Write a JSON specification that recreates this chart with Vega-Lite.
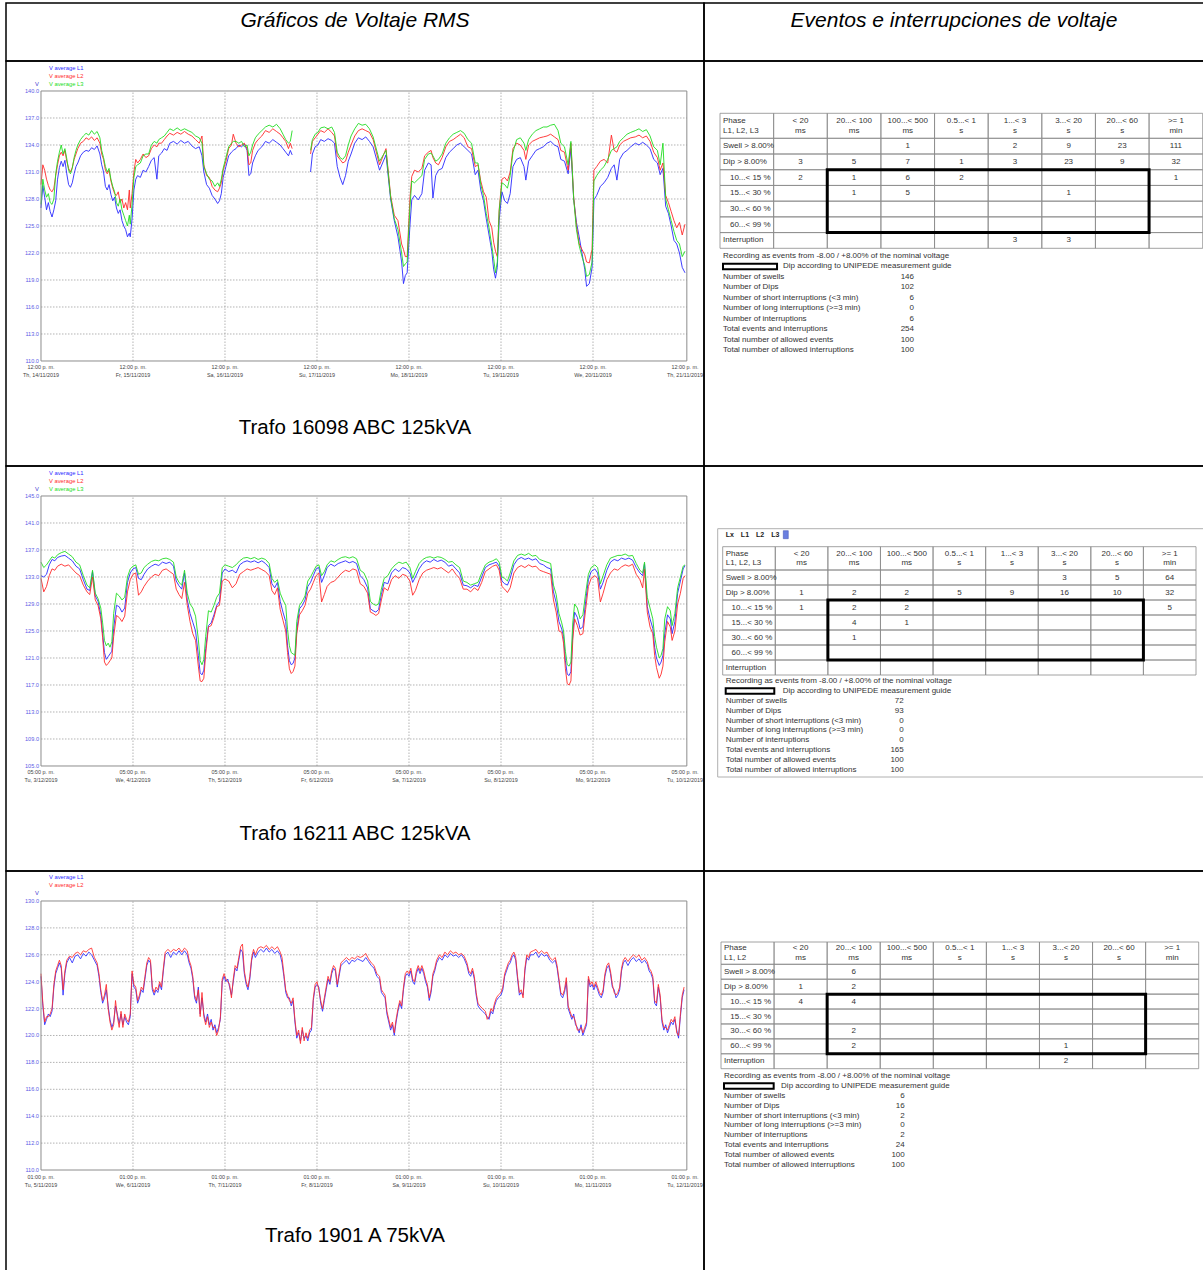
{
  "$schema": "https://vega.github.io/schema/vega-lite/v6.json",
  "padding": {"left": 5, "top": 2, "right": 0, "bottom": 0},
  "background": "white",
  "config": {
    "view": {"stroke": "#000", "strokeWidth": 1.5},
    "axis": {"disable": true},
    "legend": {"disable": true},
    "font": "Liberation Sans",
    "text": {"font": "Liberation Sans"}
  },
  "datasets": {
    "lg": [{"key": "a", "t": "V average L1"}, {"key": "b", "t": "V average L2"}, {"key": "c", "t": "V average L3"}],
    "x1": [
      {"d": 0, "lbl": "12:00 p. m.\nTh, 14/11/2019"}, {"d": 1, "lbl": "12:00 p. m.\nFr, 15/11/2019"},
      {"d": 2, "lbl": "12:00 p. m.\nSa, 16/11/2019"}, {"d": 3, "lbl": "12:00 p. m.\nSu, 17/11/2019"},
      {"d": 4, "lbl": "12:00 p. m.\nMo, 18/11/2019"}, {"d": 5, "lbl": "12:00 p. m.\nTu, 19/11/2019"},
      {"d": 6, "lbl": "12:00 p. m.\nWe, 20/11/2019"}, {"d": 7, "lbl": "12:00 p. m.\nTh, 21/11/2019"}
    ],
    "x2": [
      {"d": 0, "lbl": "05:00 p. m.\nTu, 3/12/2019"}, {"d": 1, "lbl": "05:00 p. m.\nWe, 4/12/2019"},
      {"d": 2, "lbl": "05:00 p. m.\nTh, 5/12/2019"}, {"d": 3, "lbl": "05:00 p. m.\nFr, 6/12/2019"},
      {"d": 4, "lbl": "05:00 p. m.\nSa, 7/12/2019"}, {"d": 5, "lbl": "05:00 p. m.\nSu, 8/12/2019"},
      {"d": 6, "lbl": "05:00 p. m.\nMo, 9/12/2019"}, {"d": 7, "lbl": "05:00 p. m.\nTu, 10/12/2019"}
    ],
    "x3": [
      {"d": 0, "lbl": "01:00 p. m.\nTu, 5/11/2019"}, {"d": 1, "lbl": "01:00 p. m.\nWe, 6/11/2019"},
      {"d": 2, "lbl": "01:00 p. m.\nTh, 7/11/2019"}, {"d": 3, "lbl": "01:00 p. m.\nFr, 8/11/2019"},
      {"d": 4, "lbl": "01:00 p. m.\nSa, 9/11/2019"}, {"d": 5, "lbl": "01:00 p. m.\nSu, 10/11/2019"},
      {"d": 6, "lbl": "01:00 p. m.\nMo, 11/11/2019"}, {"d": 7, "lbl": "01:00 p. m.\nTu, 12/11/2019"}
    ],
    "y1": [{"v": 110}, {"v": 113}, {"v": 116}, {"v": 119}, {"v": 122}, {"v": 125}, {"v": 128}, {"v": 131}, {"v": 134}, {"v": 137}, {"v": 140}],
    "y2": [{"v": 105}, {"v": 109}, {"v": 113}, {"v": 117}, {"v": 121}, {"v": 125}, {"v": 129}, {"v": 133}, {"v": 137}, {"v": 141}, {"v": 145}],
    "y3": [{"v": 110}, {"v": 112}, {"v": 114}, {"v": 116}, {"v": 118}, {"v": 120}, {"v": 122}, {"v": 124}, {"v": 126}, {"v": 128}, {"v": 130}],
    "l1": [
      {"d":0,"a":127.0,"b":129.6,"c":127.4},{"d":0.02,"a":129.5,"b":131.8,"c":130.2},{"d":0.04,"a":128.2,"b":131.2,"c":129.0},
      {"d":0.06,"a":126.8,"b":130.2,"c":128.2},{"d":0.08,"a":127.6,"b":129.5,"c":128.6},{"d":0.10,"a":126.6,"b":129.0,"c":127.6},
      {"d":0.12,"a":126.0,"b":128.8,"c":127.4},{"d":0.14,"a":126.8,"b":129.2,"c":128.0},{"d":0.16,"a":127.8,"b":130.6,"c":130.8},
      {"d":0.18,"a":130.2,"b":131.8,"c":132.2},{"d":0.20,"a":131.5,"b":132.8,"c":133.2},{"d":0.22,"a":132.2,"b":133.2,"c":134.0},
      {"d":0.24,"a":131.6,"b":132.8,"c":133.0},{"d":0.26,"a":132.3,"b":133.4,"c":133.6},{"d":0.28,"a":130.8,"b":132.2,"c":132.5},
      {"d":0.30,"a":129.6,"b":131.4,"c":131.2},{"d":0.32,"a":129.3,"b":131.0,"c":130.8},{"d":0.34,"a":129.8,"b":131.5,"c":131.4},
      {"d":0.36,"a":130.8,"b":132.4,"c":132.6},{"d":0.38,"a":131.6,"b":133.0,"c":133.4},{"d":0.40,"a":132.0,"b":133.6,"c":134.0},
      {"d":0.43,"a":132.8,"b":134.2,"c":134.6},{"d":0.46,"a":133.2,"b":134.4,"c":135.0},{"d":0.49,"a":133.4,"b":134.8,"c":135.3},
      {"d":0.52,"a":133.3,"b":134.6,"c":135.1},{"d":0.55,"a":133.7,"b":134.9,"c":135.6},{"d":0.58,"a":133.5,"b":134.5,"c":135.2},
      {"d":0.61,"a":133.9,"b":134.8,"c":135.5},{"d":0.64,"a":133.0,"b":134.2,"c":134.8},{"d":0.66,"a":131.8,"b":133.0,"c":133.4},
      {"d":0.68,"a":131.0,"b":132.4,"c":132.6},{"d":0.70,"a":129.4,"b":131.2,"c":131.6},{"d":0.72,"a":129.0,"b":130.8,"c":131.0},
      {"d":0.74,"a":129.6,"b":131.2,"c":131.4},{"d":0.76,"a":128.5,"b":130.0,"c":130.2},{"d":0.78,"a":127.8,"b":129.2,"c":129.4},
      {"d":0.80,"a":128.2,"b":128.6,"c":128.8},{"d":0.82,"a":127.0,"b":128.4,"c":127.6},{"d":0.84,"a":126.4,"b":128.8,"c":127.2},
      {"d":0.86,"a":126.8,"b":127.6,"c":128.0},{"d":0.88,"a":125.6,"b":128.0,"c":126.8},{"d":0.90,"a":125.0,"b":127.0,"c":126.2},
      {"d":0.92,"a":124.6,"b":127.6,"c":125.6},{"d":0.94,"a":123.8,"b":126.8,"c":125.0},{"d":0.96,"a":124.2,"b":129.0,"c":126.2},
      {"d":0.97,"a":123.8,"b":127.0,"c":125.2},{"d":0.99,"a":125.8,"b":128.6,"c":127.4},{"d":1.01,"a":129.0,"b":131.0,"c":130.4},
      {"d":1.03,"a":130.2,"b":132.4,"c":131.6},{"d":1.05,"a":130.6,"b":132.0,"c":131.8},{"d":1.08,"a":130.4,"b":132.4,"c":132.0},
      {"d":1.11,"a":131.2,"b":133.0,"c":132.8},{"d":1.14,"a":131.0,"b":132.6,"c":133.0},{"d":1.17,"a":131.6,"b":132.8,"c":133.0},
      {"d":1.20,"a":132.3,"b":133.6,"c":134.0},{"d":1.23,"a":132.6,"b":134.0,"c":134.4},{"d":1.26,"a":130.2,"b":133.8,"c":134.2},
      {"d":1.28,"a":132.8,"b":134.2,"c":134.6},{"d":1.31,"a":133.1,"b":134.2,"c":134.8},{"d":1.34,"a":133.6,"b":134.6,"c":135.0},
      {"d":1.37,"a":133.4,"b":135.0,"c":135.4},{"d":1.40,"a":134.2,"b":135.3,"c":135.8},{"d":1.44,"a":134.4,"b":135.1,"c":135.6},
      {"d":1.48,"a":134.1,"b":135.4,"c":135.9},{"d":1.52,"a":134.5,"b":135.2,"c":135.6},{"d":1.56,"a":134.2,"b":135.5,"c":135.8},
      {"d":1.60,"a":134.4,"b":135.2,"c":135.6},{"d":1.64,"a":133.9,"b":135.0,"c":135.4},{"d":1.68,"a":133.6,"b":134.6,"c":135.0},
      {"d":1.72,"a":133.8,"b":134.2,"c":134.8},{"d":1.75,"a":132.8,"b":135.0,"c":134.2},{"d":1.77,"a":131.0,"b":131.8,"c":131.6},
      {"d":1.80,"a":129.6,"b":130.6,"c":130.8},{"d":1.83,"a":129.2,"b":130.4,"c":130.2},{"d":1.86,"a":128.4,"b":129.4,"c":130.0},
      {"d":1.89,"a":128.0,"b":129.0,"c":129.4},{"d":1.92,"a":127.5,"b":128.8,"c":129.8},{"d":1.94,"a":127.8,"b":129.2,"c":129.4},
      {"d":1.96,"a":128.6,"b":129.8,"c":130.2},{"d":1.98,"a":130.4,"b":131.2,"c":131.4},{"d":2.01,"a":131.6,"b":132.2,"c":132.6},
      {"d":2.04,"a":132.8,"b":133.6,"c":133.8},{"d":2.07,"a":133.2,"b":134.0,"c":134.2},{"d":2.09,"a":133.4,"b":135.2,"c":134.4},
      {"d":2.12,"a":133.6,"b":134.2,"c":134.4},{"d":2.15,"a":134.0,"b":133.8,"c":134.2},{"d":2.18,"a":133.8,"b":134.0,"c":134.4},
      {"d":2.21,"a":134.1,"b":134.2,"c":133.8},{"d":2.24,"a":133.4,"b":133.6,"c":134.0},{"d":2.26,"a":130.6,"b":131.8,"c":132.8},
      {"d":2.28,"a":130.8,"b":132.0,"c":133.2},{"d":2.30,"a":132.0,"b":133.4,"c":134.0},{"d":2.33,"a":132.8,"b":134.2,"c":134.8},
      {"d":2.36,"a":133.4,"b":134.6,"c":135.2},{"d":2.40,"a":133.8,"b":135.0,"c":135.6},{"d":2.44,"a":134.4,"b":135.6,"c":136.0},
      {"d":2.48,"a":134.2,"b":135.4,"c":136.2},{"d":2.52,"a":134.6,"b":135.8,"c":136.0},{"d":2.56,"a":134.3,"b":135.5,"c":136.3},
      {"d":2.60,"a":134.0,"b":135.2,"c":135.8},{"d":2.63,"a":133.6,"b":134.8,"c":135.2},{"d":2.66,"a":133.2,"b":134.4,"c":134.6},
      {"d":2.69,"a":132.8,"b":133.6,"c":134.2},{"d":2.71,"a":133.4,"b":134.2,"c":134.4},{"d":2.73,"a":132.9,"b":133.6,"c":135.6},
      {"d":2.80,"a":null,"b":null,"c":null},
      {"d":2.93,"a":131.0,"b":133.0,"c":133.4},{"d":2.95,"a":133.0,"b":134.4,"c":134.6},{"d":2.98,"a":133.8,"b":134.8,"c":135.2},
      {"d":3.01,"a":134.0,"b":135.2,"c":135.4},{"d":3.04,"a":134.6,"b":135.6,"c":135.9},{"d":3.08,"a":134.4,"b":135.4,"c":136.0},
      {"d":3.12,"a":134.7,"b":135.8,"c":135.8},{"d":3.16,"a":134.5,"b":135.4,"c":136.0},{"d":3.19,"a":134.2,"b":135.0,"c":135.4},
      {"d":3.22,"a":131.6,"b":132.8,"c":133.2},{"d":3.25,"a":130.4,"b":132.4,"c":132.6},{"d":3.28,"a":129.6,"b":132.0,"c":132.4},
      {"d":3.31,"a":130.6,"b":132.2,"c":132.8},{"d":3.34,"a":132.2,"b":133.2,"c":134.0},{"d":3.37,"a":133.0,"b":134.0,"c":135.0},
      {"d":3.41,"a":134.2,"b":135.0,"c":135.8},{"d":3.45,"a":134.8,"b":135.6,"c":136.4},{"d":3.49,"a":134.6,"b":135.8,"c":136.2},
      {"d":3.53,"a":134.9,"b":135.6,"c":136.3},{"d":3.57,"a":134.4,"b":135.4,"c":135.8},{"d":3.61,"a":133.8,"b":134.6,"c":134.9},
      {"d":3.68,"a":131.2,"b":131.8,"c":132.2},{"d":3.75,"a":132.9,"b":133.6,"c":133.4},{"d":3.80,"a":128.0,"b":128.4,"c":128.2},
      {"d":3.84,"a":125.6,"b":126.2,"c":125.8},{"d":3.88,"a":123.8,"b":125.6,"c":124.6},{"d":3.92,"a":121.0,"b":123.0,"c":122.0},
      {"d":3.94,"a":118.6,"b":122.4,"c":120.5},{"d":3.96,"a":119.5,"b":121.6,"c":120.8},{"d":3.98,"a":119.8,"b":121.6,"c":121.0},
      {"d":4.01,"a":125.0,"b":128.0,"c":127.0},{"d":4.03,"a":127.9,"b":130.5,"c":130.0},{"d":4.06,"a":128.4,"b":131.2,"c":129.8},
      {"d":4.10,"a":127.9,"b":131.0,"c":130.2},{"d":4.14,"a":128.6,"b":131.4,"c":130.6},{"d":4.17,"a":131.2,"b":132.8,"c":132.4},
      {"d":4.21,"a":132.0,"b":133.2,"c":133.0},{"d":4.24,"a":131.8,"b":133.4,"c":133.1},{"d":4.26,"a":128.1,"b":132.6,"c":132.8},
      {"d":4.29,"a":130.6,"b":132.0,"c":132.2},{"d":4.32,"a":131.2,"b":131.8,"c":132.4},{"d":4.36,"a":131.4,"b":132.6,"c":133.0},
      {"d":4.40,"a":132.6,"b":133.8,"c":134.2},{"d":4.44,"a":133.2,"b":134.4,"c":134.8},{"d":4.48,"a":133.6,"b":134.6,"c":135.2},
      {"d":4.52,"a":134.0,"b":134.9,"c":135.4},{"d":4.56,"a":134.2,"b":135.2,"c":135.6},{"d":4.60,"a":133.8,"b":134.8,"c":135.3},
      {"d":4.64,"a":133.4,"b":133.8,"c":134.6},{"d":4.68,"a":133.0,"b":133.6,"c":134.2},{"d":4.72,"a":130.7,"b":131.6,"c":132.0},
      {"d":4.75,"a":131.2,"b":131.8,"c":132.0},{"d":4.78,"a":129.0,"b":130.0,"c":129.6},{"d":4.81,"a":127.8,"b":128.8,"c":128.4},
      {"d":4.84,"a":125.8,"b":128.2,"c":126.4},{"d":4.87,"a":124.0,"b":125.6,"c":124.8},{"d":4.90,"a":122.2,"b":124.8,"c":122.8},
      {"d":4.92,"a":120.2,"b":123.2,"c":121.4},{"d":4.94,"a":119.2,"b":122.2,"c":119.8},{"d":4.96,"a":120.4,"b":121.6,"c":121.0},
      {"d":4.98,"a":125.6,"b":126.8,"c":126.6},{"d":5.01,"a":128.8,"b":130.2,"c":129.8},{"d":5.04,"a":127.8,"b":130.4,"c":129.6},
      {"d":5.07,"a":127.5,"b":130.0,"c":129.2},{"d":5.10,"a":128.6,"b":131.0,"c":130.6},{"d":5.13,"a":131.6,"b":133.6,"c":133.2},
      {"d":5.17,"a":132.4,"b":134.2,"c":134.6},{"d":5.21,"a":132.6,"b":134.0,"c":134.8},{"d":5.25,"a":131.6,"b":133.4,"c":134.2},
      {"d":5.27,"a":130.1,"b":132.4,"c":133.4},{"d":5.30,"a":132.2,"b":134.0,"c":134.6},{"d":5.34,"a":132.8,"b":134.4,"c":135.2},
      {"d":5.38,"a":133.4,"b":134.6,"c":135.6},{"d":5.42,"a":133.6,"b":134.8,"c":135.8},{"d":5.46,"a":133.8,"b":134.9,"c":136.0},
      {"d":5.50,"a":134.2,"b":135.0,"c":136.0},{"d":5.54,"a":134.4,"b":135.2,"c":136.2},{"d":5.58,"a":134.0,"b":134.9,"c":136.3},
      {"d":5.62,"a":133.8,"b":134.6,"c":135.6},{"d":5.65,"a":132.4,"b":133.4,"c":134.2},{"d":5.69,"a":132.2,"b":133.2,"c":133.8},
      {"d":5.73,"a":130.8,"b":131.2,"c":131.8},{"d":5.76,"a":133.6,"b":134.2,"c":134.4},{"d":5.79,"a":128.0,"b":128.2,"c":128.0},
      {"d":5.82,"a":125.4,"b":125.0,"c":124.6},{"d":5.85,"a":123.8,"b":123.0,"c":122.8},{"d":5.88,"a":122.0,"b":122.4,"c":121.6},
      {"d":5.91,"a":120.2,"b":121.8,"c":120.6},{"d":5.93,"a":118.3,"b":121.0,"c":119.4},{"d":5.96,"a":118.6,"b":120.9,"c":119.6},
      {"d":5.99,"a":120.4,"b":122.4,"c":121.0},{"d":6.01,"a":127.9,"b":131.2,"c":130.0},{"d":6.04,"a":128.4,"b":131.6,"c":130.6},
      {"d":6.08,"a":129.4,"b":132.2,"c":131.2},{"d":6.12,"a":129.8,"b":132.4,"c":131.6},{"d":6.16,"a":130.4,"b":132.0,"c":132.4},
      {"d":6.20,"a":131.4,"b":135.1,"c":133.4},{"d":6.23,"a":131.8,"b":133.4,"c":133.6},{"d":6.26,"a":130.1,"b":133.2,"c":133.8},
      {"d":6.29,"a":132.4,"b":134.0,"c":134.4},{"d":6.33,"a":133.1,"b":134.4,"c":134.8},{"d":6.37,"a":133.4,"b":134.6,"c":135.2},
      {"d":6.41,"a":133.8,"b":134.8,"c":135.4},{"d":6.46,"a":134.2,"b":134.9,"c":135.6},{"d":6.50,"a":134.0,"b":135.1,"c":135.8},
      {"d":6.54,"a":134.3,"b":134.8,"c":135.5},{"d":6.58,"a":134.0,"b":135.0,"c":135.7},{"d":6.62,"a":133.6,"b":134.4,"c":135.0},
      {"d":6.66,"a":132.4,"b":133.2,"c":133.8},{"d":6.70,"a":132.0,"b":132.6,"c":133.4},{"d":6.73,"a":130.7,"b":131.2,"c":131.8},
      {"d":6.76,"a":131.4,"b":132.0,"c":134.2},{"d":6.79,"a":127.2,"b":128.4,"c":128.0},{"d":6.82,"a":126.4,"b":127.6,"c":126.8},
      {"d":6.85,"a":125.0,"b":126.6,"c":125.6},{"d":6.88,"a":123.4,"b":125.6,"c":124.4},{"d":6.91,"a":123.0,"b":124.8,"c":123.4},
      {"d":6.94,"a":122.0,"b":125.4,"c":123.0},{"d":6.97,"a":120.4,"b":124.0,"c":121.6},{"d":7.00,"a":119.8,"b":125.2,"c":122.2}
    ],
    "l2": [
      {"d":0,"a":133.2,"b":132.8,"c":135.2},{"d":0.03,"a":133.0,"b":130.8,"c":134.4},{"d":0.06,"a":133.4,"b":131.6,"c":134.8},
      {"d":0.09,"a":134.8,"b":133.2,"c":135.4},{"d":0.12,"a":135.6,"b":134.2,"c":136.0},{"d":0.15,"a":135.4,"b":134.0,"c":135.8},
      {"d":0.18,"a":135.9,"b":134.6,"c":136.3},{"d":0.22,"a":136.1,"b":134.9,"c":136.6},{"d":0.26,"a":136.2,"b":134.6,"c":136.8},
      {"d":0.30,"a":135.8,"b":134.8,"c":136.4},{"d":0.34,"a":135.4,"b":134.2,"c":136.0},{"d":0.38,"a":134.6,"b":133.6,"c":135.2},
      {"d":0.42,"a":134.2,"b":133.2,"c":134.8},{"d":0.46,"a":132.6,"b":131.8,"c":133.2},{"d":0.50,"a":131.2,"b":130.8,"c":131.8},
      {"d":0.53,"a":131.0,"b":130.4,"c":131.4},{"d":0.56,"a":133.8,"b":133.0,"c":134.0},{"d":0.59,"a":130.2,"b":129.6,"c":130.6},
      {"d":0.62,"a":129.4,"b":128.8,"c":129.8},{"d":0.65,"a":127.4,"b":126.8,"c":128.4},{"d":0.67,"a":124.6,"b":124.0,"c":126.2},
      {"d":0.69,"a":121.8,"b":120.4,"c":123.6},{"d":0.71,"a":120.8,"b":119.9,"c":122.8},{"d":0.73,"a":121.2,"b":120.2,"c":123.2},
      {"d":0.75,"a":121.6,"b":120.6,"c":122.6},{"d":0.77,"a":122.0,"b":121.0,"c":123.4},{"d":0.79,"a":125.4,"b":124.2,"c":127.6},
      {"d":0.82,"a":128.8,"b":127.3,"c":130.6},{"d":0.85,"a":128.6,"b":127.0,"c":130.2},{"d":0.88,"a":127.8,"b":126.4,"c":129.6},
      {"d":0.91,"a":128.4,"b":127.2,"c":130.0},{"d":0.94,"a":132.2,"b":130.8,"c":133.0},{"d":0.97,"a":133.6,"b":132.6,"c":134.2},
      {"d":1.00,"a":134.2,"b":133.4,"c":134.6},{"d":1.03,"a":134.4,"b":133.6,"c":134.8},{"d":1.06,"a":132.8,"b":130.3,"c":133.4},
      {"d":1.09,"a":132.6,"b":130.8,"c":133.6},{"d":1.12,"a":133.4,"b":131.6,"c":134.4},{"d":1.16,"a":134.2,"b":132.4,"c":134.9},
      {"d":1.20,"a":134.6,"b":133.0,"c":135.3},{"d":1.24,"a":134.9,"b":133.4,"c":135.5},{"d":1.28,"a":134.7,"b":133.2,"c":135.4},
      {"d":1.32,"a":135.2,"b":134.0,"c":135.7},{"d":1.36,"a":135.0,"b":134.2,"c":135.8},{"d":1.40,"a":135.2,"b":133.8,"c":135.6},
      {"d":1.44,"a":134.6,"b":133.4,"c":135.2},{"d":1.47,"a":132.4,"b":131.2,"c":133.0},{"d":1.50,"a":131.7,"b":130.4,"c":132.2},
      {"d":1.53,"a":131.2,"b":129.8,"c":131.8},{"d":1.56,"a":133.6,"b":132.2,"c":134.0},{"d":1.59,"a":129.6,"b":128.8,"c":130.6},
      {"d":1.62,"a":127.6,"b":126.4,"c":129.0},{"d":1.65,"a":126.3,"b":124.6,"c":128.4},{"d":1.68,"a":125.0,"b":123.6,"c":127.2},
      {"d":1.71,"a":121.4,"b":119.8,"c":123.8},{"d":1.73,"a":118.8,"b":117.6,"c":120.6},{"d":1.75,"a":118.5,"b":117.5,"c":120.0},
      {"d":1.77,"a":119.2,"b":118.0,"c":120.8},{"d":1.79,"a":122.4,"b":121.6,"c":124.2},{"d":1.82,"a":125.8,"b":125.6,"c":128.0},
      {"d":1.85,"a":126.2,"b":125.8,"c":127.8},{"d":1.88,"a":127.4,"b":127.0,"c":128.8},{"d":1.91,"a":128.8,"b":128.6,"c":130.0},
      {"d":1.94,"a":129.4,"b":128.8,"c":130.6},{"d":1.97,"a":133.6,"b":132.4,"c":134.4},{"d":2.00,"a":134.2,"b":132.7,"c":134.8},
      {"d":2.04,"a":133.8,"b":132.4,"c":134.6},{"d":2.08,"a":134.0,"b":131.4,"c":134.4},{"d":2.12,"a":133.6,"b":132.0,"c":134.8},
      {"d":2.16,"a":134.8,"b":133.4,"c":135.4},{"d":2.20,"a":135.2,"b":133.8,"c":135.8},{"d":2.24,"a":135.4,"b":134.2,"c":135.9},
      {"d":2.28,"a":135.2,"b":134.0,"c":135.7},{"d":2.32,"a":135.4,"b":134.2,"c":135.9},{"d":2.36,"a":135.1,"b":134.4,"c":135.6},
      {"d":2.40,"a":135.4,"b":134.1,"c":135.8},{"d":2.44,"a":135.0,"b":133.8,"c":135.6},{"d":2.48,"a":134.4,"b":133.2,"c":135.0},
      {"d":2.51,"a":132.0,"b":131.0,"c":132.8},{"d":2.54,"a":131.4,"b":130.4,"c":132.2},{"d":2.57,"a":132.2,"b":131.4,"c":132.6},
      {"d":2.60,"a":129.4,"b":128.2,"c":130.6},{"d":2.63,"a":127.8,"b":126.6,"c":129.6},{"d":2.66,"a":126.4,"b":125.0,"c":128.8},
      {"d":2.68,"a":122.8,"b":121.8,"c":125.2},{"d":2.70,"a":120.6,"b":119.4,"c":122.8},{"d":2.72,"a":120.0,"b":118.7,"c":121.8},
      {"d":2.74,"a":120.2,"b":119.0,"c":121.6},{"d":2.76,"a":121.0,"b":119.8,"c":121.4},{"d":2.78,"a":125.0,"b":124.6,"c":126.4},
      {"d":2.81,"a":128.3,"b":127.4,"c":128.8},{"d":2.84,"a":128.8,"b":128.0,"c":129.4},{"d":2.87,"a":129.6,"b":128.8,"c":130.2},
      {"d":2.90,"a":131.6,"b":130.6,"c":132.4},{"d":2.93,"a":132.2,"b":131.2,"c":133.0},{"d":2.96,"a":133.2,"b":132.2,"c":133.8},
      {"d":2.99,"a":134.2,"b":133.2,"c":134.6},{"d":3.02,"a":134.4,"b":133.6,"c":134.8},{"d":3.05,"a":132.2,"b":129.3,"c":133.2},
      {"d":3.08,"a":133.2,"b":130.4,"c":133.8},{"d":3.11,"a":134.4,"b":131.6,"c":134.8},{"d":3.15,"a":134.9,"b":132.2,"c":135.4},
      {"d":3.19,"a":134.6,"b":132.4,"c":135.2},{"d":3.23,"a":135.0,"b":133.0,"c":135.6},{"d":3.27,"a":135.2,"b":133.6,"c":135.9},
      {"d":3.31,"a":135.4,"b":134.0,"c":136.0},{"d":3.35,"a":135.1,"b":133.8,"c":135.8},{"d":3.39,"a":135.3,"b":134.2,"c":136.0},
      {"d":3.43,"a":135.0,"b":134.0,"c":135.7},{"d":3.47,"a":133.2,"b":132.0,"c":134.0},{"d":3.51,"a":132.6,"b":131.6,"c":133.6},
      {"d":3.55,"a":131.4,"b":130.6,"c":132.4},{"d":3.58,"a":128.3,"b":127.8,"c":129.4},{"d":3.61,"a":128.0,"b":127.6,"c":129.0},
      {"d":3.64,"a":127.8,"b":127.3,"c":128.8},{"d":3.67,"a":128.2,"b":127.6,"c":129.0},{"d":3.70,"a":130.4,"b":129.6,"c":131.2},
      {"d":3.73,"a":132.2,"b":131.4,"c":132.8},{"d":3.77,"a":132.0,"b":131.0,"c":133.2},{"d":3.81,"a":133.6,"b":132.6,"c":134.2},
      {"d":3.85,"a":134.2,"b":133.2,"c":134.8},{"d":3.89,"a":133.8,"b":132.8,"c":135.2},{"d":3.93,"a":134.4,"b":133.4,"c":135.0},
      {"d":3.97,"a":134.2,"b":133.2,"c":135.2},{"d":4.01,"a":133.6,"b":132.4,"c":134.4},{"d":4.04,"a":132.2,"b":130.3,"c":132.8},
      {"d":4.07,"a":133.0,"b":131.0,"c":133.8},{"d":4.11,"a":134.2,"b":132.6,"c":135.0},{"d":4.15,"a":135.0,"b":133.6,"c":135.6},
      {"d":4.19,"a":135.4,"b":134.0,"c":135.9},{"d":4.23,"a":135.2,"b":134.2,"c":136.0},{"d":4.27,"a":135.6,"b":134.4,"c":135.8},
      {"d":4.31,"a":135.3,"b":134.2,"c":136.0},{"d":4.35,"a":135.5,"b":134.4,"c":135.9},{"d":4.39,"a":135.2,"b":134.0,"c":135.6},
      {"d":4.43,"a":134.6,"b":133.6,"c":135.2},{"d":4.47,"a":134.8,"b":134.2,"c":135.3},{"d":4.51,"a":134.2,"b":133.4,"c":134.8},
      {"d":4.55,"a":133.6,"b":132.8,"c":134.4},{"d":4.59,"a":131.8,"b":131.2,"c":132.4},{"d":4.63,"a":131.7,"b":131.2,"c":132.2},
      {"d":4.67,"a":131.4,"b":130.8,"c":131.8},{"d":4.71,"a":131.8,"b":131.4,"c":132.0},{"d":4.75,"a":131.6,"b":131.0,"c":132.2},
      {"d":4.79,"a":133.0,"b":132.2,"c":133.6},{"d":4.83,"a":134.4,"b":133.8,"c":134.8},{"d":4.87,"a":134.8,"b":134.2,"c":135.2},
      {"d":4.91,"a":135.0,"b":134.6,"c":135.4},{"d":4.95,"a":135.2,"b":134.8,"c":135.7},{"d":4.98,"a":134.6,"b":134.0,"c":135.2},
      {"d":5.01,"a":132.4,"b":131.6,"c":133.0},{"d":5.04,"a":132.0,"b":131.2,"c":132.8},{"d":5.07,"a":131.8,"b":130.7,"c":132.4},
      {"d":5.10,"a":132.8,"b":131.4,"c":133.6},{"d":5.14,"a":134.8,"b":133.6,"c":135.4},{"d":5.18,"a":135.6,"b":134.4,"c":136.2},
      {"d":5.22,"a":135.9,"b":134.7,"c":136.4},{"d":5.26,"a":135.6,"b":134.4,"c":136.2},{"d":5.30,"a":135.8,"b":134.8,"c":136.5},
      {"d":5.34,"a":135.5,"b":134.5,"c":136.1},{"d":5.38,"a":135.7,"b":134.6,"c":136.2},{"d":5.42,"a":135.0,"b":134.0,"c":135.6},
      {"d":5.46,"a":134.8,"b":133.8,"c":135.4},{"d":5.50,"a":134.4,"b":133.6,"c":135.2},{"d":5.54,"a":134.2,"b":133.4,"c":135.0},
      {"d":5.57,"a":130.8,"b":129.6,"c":131.8},{"d":5.60,"a":129.2,"b":127.8,"c":130.4},{"d":5.63,"a":126.4,"b":125.0,"c":127.6},
      {"d":5.66,"a":125.3,"b":124.8,"c":126.2},{"d":5.68,"a":124.2,"b":123.2,"c":125.0},{"d":5.70,"a":120.6,"b":119.4,"c":122.0},
      {"d":5.72,"a":118.6,"b":117.2,"c":120.0},{"d":5.74,"a":118.4,"b":117.0,"c":119.8},{"d":5.76,"a":119.0,"b":117.6,"c":120.4},
      {"d":5.78,"a":124.6,"b":123.6,"c":126.2},{"d":5.80,"a":127.8,"b":126.8,"c":129.0},{"d":5.83,"a":127.0,"b":125.8,"c":128.4},
      {"d":5.86,"a":125.3,"b":124.4,"c":126.8},{"d":5.89,"a":125.6,"b":124.6,"c":127.4},{"d":5.92,"a":129.4,"b":128.2,"c":130.6},
      {"d":5.95,"a":132.6,"b":131.6,"c":133.4},{"d":5.98,"a":133.8,"b":132.8,"c":134.4},{"d":6.02,"a":134.2,"b":133.2,"c":134.8},
      {"d":6.05,"a":133.6,"b":132.8,"c":134.4},{"d":6.08,"a":131.2,"b":129.3,"c":132.0},{"d":6.11,"a":132.2,"b":130.6,"c":133.2},
      {"d":6.15,"a":134.0,"b":132.6,"c":134.8},{"d":6.19,"a":135.2,"b":133.6,"c":135.8},{"d":6.23,"a":135.6,"b":134.2,"c":136.0},
      {"d":6.27,"a":135.4,"b":134.0,"c":136.2},{"d":6.31,"a":135.8,"b":134.5,"c":136.2},{"d":6.35,"a":135.6,"b":134.8,"c":136.4},
      {"d":6.39,"a":135.8,"b":134.6,"c":136.1},{"d":6.43,"a":135.5,"b":134.9,"c":136.2},{"d":6.47,"a":134.4,"b":133.4,"c":135.0},
      {"d":6.51,"a":133.6,"b":132.6,"c":134.0},{"d":6.54,"a":133.2,"b":131.4,"c":133.6},{"d":6.56,"a":135.0,"b":134.2,"c":135.2},
      {"d":6.59,"a":128.6,"b":127.8,"c":130.0},{"d":6.62,"a":126.8,"b":125.6,"c":128.4},{"d":6.65,"a":125.4,"b":124.6,"c":126.8},
      {"d":6.67,"a":122.6,"b":121.4,"c":124.2},{"d":6.69,"a":121.0,"b":119.6,"c":122.6},{"d":6.72,"a":119.9,"b":118.0,"c":121.0},
      {"d":6.74,"a":120.4,"b":118.6,"c":121.4},{"d":6.76,"a":121.4,"b":119.8,"c":122.4},{"d":6.78,"a":124.6,"b":123.4,"c":126.8},
      {"d":6.81,"a":127.4,"b":126.4,"c":128.6},{"d":6.84,"a":126.8,"b":125.6,"c":128.0},{"d":6.86,"a":124.6,"b":123.6,"c":125.8},
      {"d":6.89,"a":126.4,"b":125.0,"c":127.6},{"d":6.92,"a":130.6,"b":129.0,"c":131.4},{"d":6.95,"a":132.4,"b":130.6,"c":133.0},
      {"d":6.98,"a":134.2,"b":132.8,"c":134.6},{"d":7.00,"a":134.7,"b":133.2,"c":134.8}
    ],
    "l3": [
      {"d":0,"a":124.4,"b":124.6},{"d":0.02,"a":122.2,"b":122.4},{"d":0.04,"a":120.8,"b":121.0},{"d":0.06,"a":121.2,"b":121.4},
      {"d":0.08,"a":121.6,"b":121.4},{"d":0.10,"a":121.4,"b":121.6},{"d":0.12,"a":121.8,"b":122.0},{"d":0.14,"a":123.6,"b":123.8},
      {"d":0.16,"a":124.6,"b":124.8},{"d":0.18,"a":125.0,"b":125.2},{"d":0.20,"a":125.4,"b":125.6},{"d":0.22,"a":125.0,"b":125.2},
      {"d":0.24,"a":123.0,"b":123.4},{"d":0.26,"a":124.6,"b":124.8},{"d":0.28,"a":125.4,"b":125.6},{"d":0.31,"a":125.8,"b":125.9},
      {"d":0.34,"a":125.4,"b":125.8},{"d":0.37,"a":125.9,"b":126.1},{"d":0.40,"a":126.0,"b":126.2},{"d":0.43,"a":125.7,"b":126.0},
      {"d":0.46,"a":126.1,"b":126.3},{"d":0.49,"a":125.9,"b":126.2},{"d":0.52,"a":126.2,"b":126.4},{"d":0.55,"a":126.0,"b":126.5},
      {"d":0.58,"a":125.6,"b":125.8},{"d":0.61,"a":125.2,"b":125.4},{"d":0.63,"a":124.4,"b":124.6},{"d":0.65,"a":123.2,"b":123.4},
      {"d":0.67,"a":122.4,"b":122.6},{"d":0.69,"a":122.8,"b":123.0},{"d":0.71,"a":123.4,"b":123.8},{"d":0.73,"a":122.2,"b":122.0},
      {"d":0.75,"a":121.2,"b":121.0},{"d":0.77,"a":120.6,"b":120.4},{"d":0.79,"a":121.0,"b":120.8},{"d":0.81,"a":122.2,"b":122.6},
      {"d":0.83,"a":121.6,"b":121.4},{"d":0.85,"a":120.9,"b":120.6},{"d":0.87,"a":121.6,"b":121.8},{"d":0.89,"a":120.8,"b":120.6},
      {"d":0.91,"a":121.4,"b":121.6},{"d":0.93,"a":121.0,"b":121.2},{"d":0.95,"a":120.8,"b":121.0},{"d":0.97,"a":121.4,"b":121.6},
      {"d":0.99,"a":124.6,"b":124.8},{"d":1.01,"a":123.6,"b":123.8},{"d":1.03,"a":123.4,"b":123.6},{"d":1.05,"a":122.4,"b":122.6},
      {"d":1.07,"a":122.8,"b":123.0},{"d":1.09,"a":123.4,"b":123.6},{"d":1.11,"a":123.2,"b":123.4},{"d":1.13,"a":124.2,"b":124.4},
      {"d":1.15,"a":125.2,"b":125.4},{"d":1.17,"a":125.6,"b":125.8},{"d":1.19,"a":125.4,"b":125.6},{"d":1.21,"a":123.4,"b":123.6},
      {"d":1.23,"a":123.0,"b":123.2},{"d":1.25,"a":123.4,"b":123.6},{"d":1.27,"a":123.2,"b":123.4},{"d":1.29,"a":123.8,"b":124.0},
      {"d":1.31,"a":123.4,"b":123.6},{"d":1.33,"a":124.8,"b":125.0},{"d":1.35,"a":126.0,"b":126.2},{"d":1.38,"a":126.2,"b":126.4},
      {"d":1.41,"a":125.8,"b":126.2},{"d":1.44,"a":126.2,"b":126.4},{"d":1.47,"a":126.0,"b":126.3},{"d":1.50,"a":126.3,"b":126.5},
      {"d":1.53,"a":126.0,"b":126.2},{"d":1.56,"a":126.3,"b":126.5},{"d":1.59,"a":126.0,"b":126.3},{"d":1.61,"a":125.4,"b":125.6},
      {"d":1.63,"a":125.0,"b":125.2},{"d":1.65,"a":124.2,"b":124.4},{"d":1.67,"a":122.8,"b":123.0},{"d":1.69,"a":122.4,"b":122.6},
      {"d":1.71,"a":123.6,"b":123.4},{"d":1.73,"a":121.6,"b":121.4},{"d":1.75,"a":122.8,"b":123.2},{"d":1.77,"a":121.6,"b":121.4},
      {"d":1.79,"a":121.0,"b":120.8},{"d":1.81,"a":121.6,"b":121.4},{"d":1.83,"a":120.8,"b":120.6},{"d":1.85,"a":121.2,"b":121.0},
      {"d":1.87,"a":120.4,"b":120.6},{"d":1.89,"a":120.8,"b":120.6},{"d":1.91,"a":120.2,"b":120.0},{"d":1.93,"a":120.6,"b":120.4},
      {"d":1.95,"a":121.2,"b":121.4},{"d":1.97,"a":124.0,"b":124.2},{"d":1.99,"a":124.4,"b":124.6},{"d":2.01,"a":124.0,"b":124.2},
      {"d":2.03,"a":124.2,"b":124.0},{"d":2.05,"a":123.6,"b":123.8},{"d":2.07,"a":123.0,"b":122.8},{"d":2.09,"a":124.0,"b":124.2},
      {"d":2.11,"a":125.0,"b":125.2},{"d":2.13,"a":124.8,"b":125.0},{"d":2.15,"a":125.6,"b":125.8},{"d":2.17,"a":126.4,"b":126.6},
      {"d":2.19,"a":126.2,"b":126.8},{"d":2.21,"a":124.6,"b":124.8},{"d":2.23,"a":123.8,"b":124.0},{"d":2.25,"a":123.4,"b":123.6},
      {"d":2.27,"a":124.2,"b":124.4},{"d":2.29,"a":125.6,"b":125.8},{"d":2.31,"a":126.2,"b":126.4},{"d":2.33,"a":125.8,"b":126.0},
      {"d":2.36,"a":126.2,"b":126.5},{"d":2.39,"a":126.4,"b":126.6},{"d":2.42,"a":126.2,"b":126.5},{"d":2.45,"a":126.5,"b":126.7},
      {"d":2.48,"a":126.2,"b":126.4},{"d":2.51,"a":126.4,"b":126.6},{"d":2.54,"a":126.1,"b":126.4},{"d":2.57,"a":126.3,"b":126.6},
      {"d":2.60,"a":126.0,"b":126.2},{"d":2.62,"a":125.4,"b":125.8},{"d":2.64,"a":124.4,"b":124.6},{"d":2.66,"a":123.2,"b":123.4},
      {"d":2.68,"a":122.8,"b":123.0},{"d":2.70,"a":122.8,"b":122.6},{"d":2.72,"a":122.2,"b":122.4},{"d":2.74,"a":122.6,"b":122.8},
      {"d":2.76,"a":121.0,"b":121.2},{"d":2.78,"a":119.8,"b":120.0},{"d":2.80,"a":120.2,"b":120.4},{"d":2.82,"a":119.6,"b":119.4},
      {"d":2.84,"a":120.4,"b":120.6},{"d":2.86,"a":119.8,"b":119.6},{"d":2.88,"a":120.0,"b":120.2},{"d":2.90,"a":119.6,"b":119.8},
      {"d":2.92,"a":120.2,"b":120.4},{"d":2.94,"a":120.4,"b":120.6},{"d":2.96,"a":122.6,"b":122.8},{"d":2.98,"a":123.6,"b":123.8},
      {"d":3.00,"a":123.8,"b":124.0},{"d":3.02,"a":123.6,"b":123.4},{"d":3.04,"a":122.4,"b":122.6},{"d":3.06,"a":121.8,"b":122.0},
      {"d":3.08,"a":122.6,"b":122.8},{"d":3.10,"a":123.4,"b":123.6},{"d":3.12,"a":124.2,"b":124.4},{"d":3.14,"a":123.8,"b":124.0},
      {"d":3.16,"a":124.6,"b":124.8},{"d":3.18,"a":125.0,"b":125.2},{"d":3.20,"a":124.8,"b":125.0},{"d":3.22,"a":123.6,"b":123.8},
      {"d":3.24,"a":124.4,"b":124.6},{"d":3.26,"a":125.2,"b":125.4},{"d":3.29,"a":125.4,"b":125.6},{"d":3.32,"a":125.6,"b":125.8},
      {"d":3.35,"a":125.3,"b":125.6},{"d":3.38,"a":125.6,"b":125.8},{"d":3.41,"a":125.5,"b":125.7},{"d":3.44,"a":125.7,"b":125.9},
      {"d":3.47,"a":125.6,"b":125.8},{"d":3.50,"a":125.5,"b":125.9},{"d":3.53,"a":125.8,"b":126.1},{"d":3.56,"a":125.5,"b":125.7},
      {"d":3.59,"a":125.2,"b":125.4},{"d":3.62,"a":125.0,"b":125.2},{"d":3.65,"a":124.4,"b":124.6},{"d":3.68,"a":124.2,"b":124.4},
      {"d":3.70,"a":123.2,"b":123.4},{"d":3.72,"a":123.0,"b":123.2},{"d":3.74,"a":122.8,"b":123.0},{"d":3.76,"a":121.6,"b":121.8},
      {"d":3.78,"a":121.0,"b":121.2},{"d":3.80,"a":120.4,"b":120.6},{"d":3.82,"a":120.8,"b":121.0},{"d":3.84,"a":120.0,"b":120.2},
      {"d":3.86,"a":121.0,"b":121.2},{"d":3.88,"a":121.8,"b":122.0},{"d":3.90,"a":122.4,"b":122.6},{"d":3.92,"a":122.0,"b":122.2},
      {"d":3.94,"a":123.4,"b":123.6},{"d":3.96,"a":124.4,"b":124.6},{"d":3.98,"a":124.6,"b":124.8},{"d":4.00,"a":124.4,"b":124.6},
      {"d":4.02,"a":124.8,"b":125.0},{"d":4.04,"a":124.0,"b":124.2},{"d":4.06,"a":123.8,"b":124.0},{"d":4.08,"a":124.6,"b":124.8},
      {"d":4.10,"a":125.0,"b":125.2},{"d":4.12,"a":124.6,"b":124.8},{"d":4.14,"a":125.0,"b":125.2},{"d":4.16,"a":124.6,"b":124.8},
      {"d":4.18,"a":124.0,"b":124.2},{"d":4.20,"a":123.6,"b":123.8},{"d":4.22,"a":122.6,"b":122.8},{"d":4.24,"a":123.2,"b":123.4},
      {"d":4.26,"a":124.4,"b":124.6},{"d":4.28,"a":124.8,"b":125.0},{"d":4.30,"a":125.4,"b":125.6},{"d":4.33,"a":125.8,"b":126.0},
      {"d":4.36,"a":125.6,"b":125.8},{"d":4.39,"a":126.0,"b":126.2},{"d":4.42,"a":125.8,"b":126.0},{"d":4.45,"a":126.1,"b":126.3},
      {"d":4.48,"a":125.9,"b":126.1},{"d":4.51,"a":126.0,"b":126.2},{"d":4.54,"a":125.8,"b":126.0},{"d":4.57,"a":126.0,"b":126.1},
      {"d":4.60,"a":125.7,"b":125.9},{"d":4.63,"a":125.2,"b":125.4},{"d":4.65,"a":124.6,"b":124.8},{"d":4.67,"a":124.4,"b":124.6},
      {"d":4.69,"a":124.8,"b":125.0},{"d":4.71,"a":124.2,"b":124.4},{"d":4.73,"a":123.0,"b":123.2},{"d":4.75,"a":122.2,"b":122.4},
      {"d":4.77,"a":122.0,"b":122.2},{"d":4.80,"a":121.8,"b":122.0},{"d":4.83,"a":121.6,"b":121.8},{"d":4.85,"a":121.4,"b":121.2},
      {"d":4.87,"a":121.2,"b":121.4},{"d":4.89,"a":121.8,"b":122.0},{"d":4.91,"a":121.6,"b":121.8},{"d":4.93,"a":122.2,"b":122.4},
      {"d":4.95,"a":122.6,"b":122.8},{"d":4.97,"a":122.8,"b":123.0},{"d":5.00,"a":123.0,"b":123.2},{"d":5.02,"a":123.4,"b":123.6},
      {"d":5.04,"a":124.4,"b":124.6},{"d":5.06,"a":124.8,"b":125.0},{"d":5.08,"a":125.2,"b":125.4},{"d":5.10,"a":125.4,"b":125.6},
      {"d":5.12,"a":125.8,"b":126.0},{"d":5.14,"a":126.0,"b":126.2},{"d":5.16,"a":125.6,"b":125.8},{"d":5.18,"a":124.2,"b":124.4},
      {"d":5.20,"a":123.0,"b":123.2},{"d":5.22,"a":123.2,"b":123.4},{"d":5.24,"a":123.0,"b":122.8},{"d":5.26,"a":124.8,"b":125.0},
      {"d":5.28,"a":125.8,"b":126.0},{"d":5.30,"a":125.6,"b":125.8},{"d":5.32,"a":126.0,"b":126.2},{"d":5.35,"a":126.0,"b":126.3},
      {"d":5.38,"a":126.2,"b":126.4},{"d":5.41,"a":125.8,"b":126.1},{"d":5.44,"a":126.1,"b":126.3},{"d":5.47,"a":125.9,"b":126.1},
      {"d":5.50,"a":126.0,"b":126.2},{"d":5.53,"a":125.6,"b":125.8},{"d":5.56,"a":125.4,"b":125.6},{"d":5.59,"a":125.6,"b":125.8},
      {"d":5.61,"a":125.0,"b":125.2},{"d":5.63,"a":124.0,"b":124.2},{"d":5.65,"a":123.0,"b":123.2},{"d":5.67,"a":122.8,"b":123.0},
      {"d":5.69,"a":123.2,"b":123.4},{"d":5.71,"a":124.0,"b":124.3},{"d":5.73,"a":122.0,"b":122.2},{"d":5.75,"a":121.6,"b":121.8},
      {"d":5.77,"a":121.2,"b":121.4},{"d":5.79,"a":121.6,"b":121.4},{"d":5.81,"a":120.8,"b":121.0},{"d":5.83,"a":120.6,"b":120.4},
      {"d":5.85,"a":120.2,"b":120.4},{"d":5.87,"a":120.8,"b":120.6},{"d":5.89,"a":120.0,"b":120.2},{"d":5.91,"a":120.4,"b":120.6},
      {"d":5.93,"a":120.8,"b":121.0},{"d":5.95,"a":124.2,"b":124.4},{"d":5.97,"a":123.6,"b":123.8},{"d":5.99,"a":123.8,"b":124.0},
      {"d":6.01,"a":123.4,"b":123.6},{"d":6.03,"a":123.8,"b":124.0},{"d":6.05,"a":123.4,"b":123.6},{"d":6.07,"a":123.0,"b":123.2},
      {"d":6.09,"a":122.8,"b":123.0},{"d":6.11,"a":123.2,"b":123.4},{"d":6.13,"a":124.4,"b":124.6},{"d":6.15,"a":125.0,"b":125.2},
      {"d":6.17,"a":125.2,"b":125.4},{"d":6.19,"a":124.6,"b":124.8},{"d":6.21,"a":123.6,"b":123.8},{"d":6.23,"a":123.4,"b":123.2},
      {"d":6.25,"a":122.8,"b":123.0},{"d":6.27,"a":123.0,"b":123.2},{"d":6.29,"a":123.4,"b":123.6},{"d":6.31,"a":124.8,"b":125.0},
      {"d":6.33,"a":125.4,"b":125.6},{"d":6.35,"a":125.6,"b":125.8},{"d":6.38,"a":125.2,"b":125.5},{"d":6.41,"a":125.6,"b":125.8},
      {"d":6.44,"a":125.8,"b":126.0},{"d":6.47,"a":125.5,"b":125.8},{"d":6.50,"a":125.7,"b":126.0},{"d":6.53,"a":125.4,"b":125.6},
      {"d":6.56,"a":125.6,"b":125.8},{"d":6.59,"a":125.3,"b":125.5},{"d":6.61,"a":124.8,"b":125.0},{"d":6.63,"a":124.6,"b":124.8},
      {"d":6.65,"a":124.2,"b":124.4},{"d":6.67,"a":122.4,"b":122.6},{"d":6.69,"a":122.2,"b":122.4},{"d":6.71,"a":123.6,"b":123.8},
      {"d":6.73,"a":122.8,"b":123.0},{"d":6.75,"a":121.0,"b":121.2},{"d":6.77,"a":120.4,"b":120.6},{"d":6.79,"a":120.8,"b":120.6},
      {"d":6.81,"a":120.2,"b":120.4},{"d":6.83,"a":120.6,"b":120.8},{"d":6.85,"a":121.0,"b":121.2},{"d":6.87,"a":120.8,"b":121.0},
      {"d":6.89,"a":121.2,"b":121.4},{"d":6.91,"a":120.4,"b":120.2},{"d":6.93,"a":119.8,"b":120.0},{"d":6.95,"a":121.4,"b":121.6},
      {"d":6.97,"a":122.8,"b":123.0},{"d":6.99,"a":123.4,"b":123.6}
    ],
    "h12": [{"row": "hdr", "p": "Phase\nL1, L2, L3", "a": "< 20\nms", "b": "20...< 100\nms", "c": "100...< 500\nms", "d": "0.5...< 1\ns", "e": "1...< 3\ns", "f": "3...< 20\ns", "g": "20...< 60\ns", "h": ">= 1\nmin"}],
    "h3": [{"row": "hdr", "p": "Phase\nL1, L2", "a": "< 20\nms", "b": "20...< 100\nms", "c": "100...< 500\nms", "d": "0.5...< 1\ns", "e": "1...< 3\ns", "f": "3...< 20\ns", "g": "20...< 60\ns", "h": ">= 1\nmin"}],
    "b1": [
      {"row": "sw", "p": "Swell > 8.00%", "a": "", "b": "", "c": "1", "d": "", "e": "2", "f": "9", "g": "23", "h": "111"},
      {"row": "dip", "p": "Dip > 8.00%", "a": "3", "b": "5", "c": "7", "d": "1", "e": "3", "f": "23", "g": "9", "h": "32"},
      {"row": "d10", "p": "10...< 15 %", "a": "2", "b": "1", "c": "6", "d": "2", "e": "", "f": "", "g": "", "h": "1"},
      {"row": "d15", "p": "15...< 30 %", "a": "", "b": "1", "c": "5", "d": "", "e": "", "f": "1", "g": "", "h": ""},
      {"row": "d30", "p": "30...< 60 %", "a": "", "b": "", "c": "", "d": "", "e": "", "f": "", "g": "", "h": ""},
      {"row": "d60", "p": "60...< 99 %", "a": "", "b": "", "c": "", "d": "", "e": "", "f": "", "g": "", "h": ""},
      {"row": "int", "p": "Interruption", "a": "", "b": "", "c": "", "d": "", "e": "3", "f": "3", "g": "", "h": ""}
    ],
    "b2": [
      {"row": "sw", "p": "Swell > 8.00%", "a": "", "b": "", "c": "", "d": "", "e": "", "f": "3", "g": "5", "h": "64"},
      {"row": "dip", "p": "Dip > 8.00%", "a": "1", "b": "2", "c": "2", "d": "5", "e": "9", "f": "16", "g": "10", "h": "32"},
      {"row": "d10", "p": "10...< 15 %", "a": "1", "b": "2", "c": "2", "d": "", "e": "", "f": "", "g": "", "h": "5"},
      {"row": "d15", "p": "15...< 30 %", "a": "", "b": "4", "c": "1", "d": "", "e": "", "f": "", "g": "", "h": ""},
      {"row": "d30", "p": "30...< 60 %", "a": "", "b": "1", "c": "", "d": "", "e": "", "f": "", "g": "", "h": ""},
      {"row": "d60", "p": "60...< 99 %", "a": "", "b": "", "c": "", "d": "", "e": "", "f": "", "g": "", "h": ""},
      {"row": "int", "p": "Interruption", "a": "", "b": "", "c": "", "d": "", "e": "", "f": "", "g": "", "h": ""}
    ],
    "b3": [
      {"row": "sw", "p": "Swell > 8.00%", "a": "", "b": "6", "c": "", "d": "", "e": "", "f": "", "g": "", "h": ""},
      {"row": "dip", "p": "Dip > 8.00%", "a": "1", "b": "2", "c": "", "d": "", "e": "", "f": "", "g": "", "h": ""},
      {"row": "d10", "p": "10...< 15 %", "a": "4", "b": "4", "c": "", "d": "", "e": "", "f": "", "g": "", "h": ""},
      {"row": "d15", "p": "15...< 30 %", "a": "", "b": "", "c": "", "d": "", "e": "", "f": "", "g": "", "h": ""},
      {"row": "d30", "p": "30...< 60 %", "a": "", "b": "2", "c": "", "d": "", "e": "", "f": "", "g": "", "h": ""},
      {"row": "d60", "p": "60...< 99 %", "a": "", "b": "2", "c": "", "d": "", "e": "", "f": "1", "g": "", "h": ""},
      {"row": "int", "p": "Interruption", "a": "", "b": "", "c": "", "d": "", "e": "", "f": "2", "g": "", "h": ""}
    ],
    "s1": [
      {"k": "rec", "t": "Recording as events from -8.00 / +8.00% of the nominal voltage"},
      {"k": "uni", "t": "Dip according to UNIPEDE measurement guide"},
      {"k": "n1", "t": "Number of swells", "v": "146"},
      {"k": "n2", "t": "Number of Dips", "v": "102"},
      {"k": "n3", "t": "Number of short interruptions (<3 min)", "v": "6"},
      {"k": "n4", "t": "Number of long interruptions (>=3 min)", "v": "0"},
      {"k": "n5", "t": "Number of interruptions", "v": "6"},
      {"k": "n6", "t": "Total events and interruptions", "v": "254"},
      {"k": "n7", "t": "Total number of allowed events", "v": "100"},
      {"k": "n8", "t": "Total number of allowed interruptions", "v": "100"}
    ],
    "s2": [
      {"k": "rec", "t": "Recording as events from -8.00 / +8.00% of the nominal voltage"},
      {"k": "uni", "t": "Dip according to UNIPEDE measurement guide"},
      {"k": "n1", "t": "Number of swells", "v": "72"},
      {"k": "n2", "t": "Number of Dips", "v": "93"},
      {"k": "n3", "t": "Number of short interruptions (<3 min)", "v": "0"},
      {"k": "n4", "t": "Number of long interruptions (>=3 min)", "v": "0"},
      {"k": "n5", "t": "Number of interruptions", "v": "0"},
      {"k": "n6", "t": "Total events and interruptions", "v": "165"},
      {"k": "n7", "t": "Total number of allowed events", "v": "100"},
      {"k": "n8", "t": "Total number of allowed interruptions", "v": "100"}
    ],
    "s3": [
      {"k": "rec", "t": "Recording as events from -8.00 / +8.00% of the nominal voltage"},
      {"k": "uni", "t": "Dip according to UNIPEDE measurement guide"},
      {"k": "n1", "t": "Number of swells", "v": "6"},
      {"k": "n2", "t": "Number of Dips", "v": "16"},
      {"k": "n3", "t": "Number of short interruptions (<3 min)", "v": "2"},
      {"k": "n4", "t": "Number of long interruptions (>=3 min)", "v": "0"},
      {"k": "n5", "t": "Number of interruptions", "v": "2"},
      {"k": "n6", "t": "Total events and interruptions", "v": "24"},
      {"k": "n7", "t": "Total number of allowed events", "v": "100"},
      {"k": "n8", "t": "Total number of allowed interruptions", "v": "100"}
    ]
  },
  "columns": 2,
  "spacing": 0,
  "bounds": "flush",
  "resolve": {"scale": {"x": "independent", "y": "independent"}},
  "concat": [
    {"width": 698, "height": 58, "data": {"values": [{"t": "Gráficos de Voltaje RMS"}]},
     "mark": {"type": "text", "fontSize": 21, "fontStyle": "italic", "fill": "#000"},
     "encoding": {"x": {"datum": 0, "type": "quantitative", "scale": {"domain": [-1, 1]}},
                  "y": {"datum": 0.38, "type": "quantitative", "scale": {"domain": [-1, 1]}},
                  "text": {"field": "t"}}},
    {"width": 500, "height": 58, "data": {"values": [{"t": "Eventos e interrupciones de voltaje"}]},
     "mark": {"type": "text", "fontSize": 21, "fontStyle": "italic", "fill": "#000"},
     "encoding": {"x": {"datum": 0, "type": "quantitative", "scale": {"domain": [-1, 1]}},
                  "y": {"datum": 0.38, "type": "quantitative", "scale": {"domain": [-1, 1]}},
                  "text": {"field": "t"}}},
    {
      "width": 698, "height": 405,
      "layer": [
        {"data": {"name": "y1"}, "transform": [{"filter": "datum.v > 110 && datum.v < 140"}],
         "mark": {"type": "rule", "stroke": "#a0a0a0", "strokeDash": [1.5, 1.5], "strokeWidth": 0.8},
         "encoding": {"x": {"datum": 0, "type": "quantitative", "scale": {"domain": [-0.3804, 7.2065], "nice": false, "zero": false}},
                      "x2": {"datum": 7.02},
                      "y": {"field": "v", "type": "quantitative", "scale": {"domain": [98.333, 143.333], "nice": false, "zero": false}}}},
        {"data": {"name": "x1"}, "transform": [{"filter": "datum.d > 0 && datum.d < 7"}],
         "mark": {"type": "rule", "stroke": "#a0a0a0", "strokeDash": [1.5, 1.5], "strokeWidth": 0.8},
         "encoding": {"x": {"field": "d", "type": "quantitative"}, "y": {"datum": 110, "type": "quantitative"}, "y2": {"datum": 140}}},
        {"data": {"name": "l1"}, "transform": [{"fold": ["a", "b", "c"]}],
         "mark": {"type": "line", "strokeWidth": 1, "opacity": 0.9},
         "encoding": {"x": {"field": "d", "type": "quantitative"}, "y": {"field": "value", "type": "quantitative"},
                      "color": {"field": "key", "type": "nominal", "scale": {"domain": ["a", "b", "c"], "range": ["#2a2aff", "#ff2a2a", "#22dd22"]}}}},
        {"data": {"values": [{}]}, "mark": {"type": "rect", "fill": "transparent", "stroke": "#8c8c8c", "strokeWidth": 1},
         "encoding": {"x": {"datum": 0, "type": "quantitative"}, "x2": {"datum": 7.02}, "y": {"datum": 110, "type": "quantitative"}, "y2": {"datum": 140}}},
        {"data": {"name": "y1"}, "mark": {"type": "text", "align": "right", "baseline": "middle", "dx": -2, "fontSize": 5.6, "fill": "#5c5ce6"},
         "encoding": {"x": {"datum": 0, "type": "quantitative"}, "y": {"field": "v", "type": "quantitative"}, "text": {"field": "v", "type": "quantitative", "format": ".1f"}}},
        {"data": {"name": "x1"}, "mark": {"type": "text", "align": "center", "baseline": "top", "dy": 4.5, "fontSize": 5.4, "lineBreak": "\n", "lineHeight": 8, "fill": "#444"},
         "encoding": {"x": {"field": "d", "type": "quantitative"}, "y": {"datum": 110, "type": "quantitative"}, "text": {"field": "lbl"}}},
        {"data": {"name": "lg"}, "transform": [{"filter": "datum.key === 'a'"}], "mark": {"type": "text", "align": "left", "baseline": "middle", "dx": 8, "dy": -23, "fontSize": 5.8},
         "encoding": {"x": {"datum": 0, "type": "quantitative"}, "y": {"datum": 140, "type": "quantitative"}, "text": {"field": "t"}, "color": {"field": "key", "type": "nominal"}}},
        {"data": {"name": "lg"}, "transform": [{"filter": "datum.key === 'b'"}], "mark": {"type": "text", "align": "left", "baseline": "middle", "dx": 8, "dy": -15, "fontSize": 5.8},
         "encoding": {"x": {"datum": 0, "type": "quantitative"}, "y": {"datum": 140, "type": "quantitative"}, "text": {"field": "t"}, "color": {"field": "key", "type": "nominal"}}},
        {"data": {"name": "lg"}, "transform": [{"filter": "datum.key === 'c'"}], "mark": {"type": "text", "align": "left", "baseline": "middle", "dx": 8, "dy": -7, "fontSize": 5.8},
         "encoding": {"x": {"datum": 0, "type": "quantitative"}, "y": {"datum": 140, "type": "quantitative"}, "text": {"field": "t"}, "color": {"field": "key", "type": "nominal"}}},
        {"data": {"values": [{"t": "V"}]}, "mark": {"type": "text", "align": "right", "baseline": "middle", "dx": -2, "dy": -7, "fontSize": 5.8, "fill": "#4040d0"},
         "encoding": {"x": {"datum": 0, "type": "quantitative"}, "y": {"datum": 140, "type": "quantitative"}, "text": {"field": "t"}}},
        {"data": {"values": [{"t": "Trafo 16098 ABC 125kVA"}]}, "mark": {"type": "text", "baseline": "middle", "dy": 67, "fontSize": 20.5, "fill": "#000"},
         "encoding": {"y": {"datum": 110, "type": "quantitative"}, "text": {"field": "t"}}}
      ]
    },
    {
      "width": 500, "height": 405,
      "resolve": {"scale": {"y": "independent"}},
      "layer": [
        {
          "data": {"name": "h12"},
          "transform": [{"fold": ["p", "a", "b", "c", "d", "e", "f", "g", "h"]}],
          "layer": [
            {"mark": {"type": "rect", "fill": "transparent", "stroke": "#8a8a8a", "strokeWidth": 0.8},
             "encoding": {"x": {"field": "key", "type": "nominal", "scale": {"type": "band", "domain": ["p", "a", "b", "c", "d", "e", "f", "g", "h"], "paddingInner": 0, "paddingOuter": 0, "range": [16, 498.7]}},
                          "y": {"field": "row", "type": "nominal", "scale": {"type": "band", "domain": ["hdr"], "paddingInner": 0, "paddingOuter": 0, "range": [52.3, 77.3]}}}},
            {"transform": [{"filter": "datum.key !== 'p'"}],
             "mark": {"type": "text", "baseline": "middle", "dy": -4.75, "fontSize": 8, "lineBreak": "\n", "lineHeight": 9.5, "fill": "#333"},
             "encoding": {"x": {"field": "key", "type": "nominal"}, "y": {"field": "row", "type": "nominal"}, "text": {"field": "value"}}},
            {"transform": [{"filter": "datum.key === 'p'"}],
             "mark": {"type": "text", "align": "left", "baseline": "middle", "dx": 3, "dy": -4.75, "fontSize": 8, "lineBreak": "\n", "lineHeight": 9.5, "fill": "#333"},
             "encoding": {"x": {"field": "key", "type": "nominal", "bandPosition": 0}, "y": {"field": "row", "type": "nominal"}, "text": {"field": "value"}}}
          ]
        },
        {
          "data": {"name": "b1"},
          "transform": [{"fold": ["p", "a", "b", "c", "d", "e", "f", "g", "h"]}],
          "layer": [
            {"mark": {"type": "rect", "fill": "transparent", "stroke": "#8a8a8a", "strokeWidth": 0.8},
             "encoding": {"x": {"field": "key", "type": "nominal"},
                          "y": {"field": "row", "type": "nominal", "scale": {"type": "band", "domain": ["sw", "dip", "d10", "d15", "d30", "d60", "int"], "paddingInner": 0, "paddingOuter": 0, "range": [77.3, 187.3]}}}},
            {"transform": [{"filter": "datum.key !== 'p'"}],
             "mark": {"type": "text", "baseline": "middle", "fontSize": 8, "fill": "#333"},
             "encoding": {"x": {"field": "key", "type": "nominal"}, "y": {"field": "row", "type": "nominal"}, "text": {"field": "value"}}},
            {"transform": [{"filter": "datum.key === 'p' && (datum.row === 'sw' || datum.row === 'dip' || datum.row === 'int')"}],
             "mark": {"type": "text", "align": "left", "baseline": "middle", "dx": 3, "fontSize": 8, "fill": "#333"},
             "encoding": {"x": {"field": "key", "type": "nominal", "bandPosition": 0}, "y": {"field": "row", "type": "nominal"}, "text": {"field": "value"}}},
            {"transform": [{"filter": "datum.key === 'p' && indexof(['d10', 'd15', 'd30', 'd60'], datum.row) >= 0"}],
             "mark": {"type": "text", "align": "right", "baseline": "middle", "dx": -3, "fontSize": 8, "fill": "#333"},
             "encoding": {"x": {"field": "key", "type": "nominal", "bandPosition": 1}, "y": {"field": "row", "type": "nominal"}, "text": {"field": "value"}}},
            {"data": {"values": [{}]},
             "mark": {"type": "rect", "fill": "transparent", "stroke": "#000", "strokeWidth": 3},
             "encoding": {"x": {"datum": "b", "type": "nominal", "bandPosition": 0}, "x2": {"datum": "g", "bandPosition": 1},
                          "y": {"datum": "d10", "type": "nominal", "bandPosition": 0}, "y2": {"datum": "d60", "bandPosition": 1}}}
          ]
        },
        {
          "data": {"name": "s1"},
          "layer": [
            {"transform": [{"filter": "datum.k !== 'uni'"}],
             "mark": {"type": "text", "align": "left", "baseline": "middle", "dx": 3, "fontSize": 8, "fill": "#333"},
             "encoding": {"x": {"datum": "p", "type": "nominal", "bandPosition": 0},
                          "y": {"field": "k", "type": "nominal", "scale": {"type": "band", "domain": ["rec", "uni", "n1", "n2", "n3", "n4", "n5", "n6", "n7", "n8"], "paddingInner": 0, "paddingOuter": 0, "range": [189.8, 294.2]}},
                          "text": {"field": "t"}}},
            {"transform": [{"filter": "datum.k === 'uni'"}],
             "mark": {"type": "text", "align": "left", "baseline": "middle", "dx": 9.4, "fontSize": 8, "fill": "#333"},
             "encoding": {"x": {"datum": "a", "type": "nominal", "bandPosition": 0}, "y": {"field": "k", "type": "nominal"}, "text": {"field": "t"}}},
            {"transform": [{"filter": "datum.v != null"}],
             "mark": {"type": "text", "align": "right", "baseline": "middle", "dx": 6.3, "fontSize": 8, "fill": "#333"},
             "encoding": {"x": {"datum": "c", "type": "nominal"}, "y": {"field": "k", "type": "nominal"}, "text": {"field": "v"}}},
            {"transform": [{"filter": "datum.k === 'uni'"}],
             "mark": {"type": "rect", "fill": "#fff", "stroke": "#000", "strokeWidth": 2, "xOffset": 3, "x2Offset": 3.4},
             "encoding": {"x": {"datum": "p", "type": "nominal", "bandPosition": 0}, "x2": {"datum": "a", "bandPosition": 0},
                          "y": {"datum": "uni", "type": "nominal", "bandPosition": 0.24}, "y2": {"datum": "uni", "bandPosition": 0.76}}}
          ]
        }
      ]
    },
    {
      "width": 698, "height": 405,
      "layer": [
        {"data": {"name": "y2"}, "transform": [{"filter": "datum.v > 105 && datum.v < 145"}],
         "mark": {"type": "rule", "stroke": "#a0a0a0", "strokeDash": [1.5, 1.5], "strokeWidth": 0.8},
         "encoding": {"x": {"datum": 0, "type": "quantitative", "scale": {"domain": [-0.3804, 7.2065], "nice": false, "zero": false}},
                      "x2": {"datum": 7.02},
                      "y": {"field": "v", "type": "quantitative", "scale": {"domain": [89.444, 149.444], "nice": false, "zero": false}}}},
        {"data": {"name": "x2"}, "transform": [{"filter": "datum.d > 0 && datum.d < 7"}],
         "mark": {"type": "rule", "stroke": "#a0a0a0", "strokeDash": [1.5, 1.5], "strokeWidth": 0.8},
         "encoding": {"x": {"field": "d", "type": "quantitative"}, "y": {"datum": 105, "type": "quantitative"}, "y2": {"datum": 145}}},
        {"data": {"name": "l2"}, "transform": [{"fold": ["a", "b", "c"]}],
         "mark": {"type": "line", "strokeWidth": 1, "opacity": 0.9},
         "encoding": {"x": {"field": "d", "type": "quantitative"}, "y": {"field": "value", "type": "quantitative"},
                      "color": {"field": "key", "type": "nominal", "scale": {"domain": ["a", "b", "c"], "range": ["#2a2aff", "#ff2a2a", "#22dd22"]}}}},
        {"data": {"values": [{}]}, "mark": {"type": "rect", "fill": "transparent", "stroke": "#8c8c8c", "strokeWidth": 1},
         "encoding": {"x": {"datum": 0, "type": "quantitative"}, "x2": {"datum": 7.02}, "y": {"datum": 105, "type": "quantitative"}, "y2": {"datum": 145}}},
        {"data": {"name": "y2"}, "mark": {"type": "text", "align": "right", "baseline": "middle", "dx": -2, "fontSize": 5.6, "fill": "#5c5ce6"},
         "encoding": {"x": {"datum": 0, "type": "quantitative"}, "y": {"field": "v", "type": "quantitative"}, "text": {"field": "v", "type": "quantitative", "format": ".1f"}}},
        {"data": {"name": "x2"}, "mark": {"type": "text", "align": "center", "baseline": "top", "dy": 4.5, "fontSize": 5.4, "lineBreak": "\n", "lineHeight": 8, "fill": "#444"},
         "encoding": {"x": {"field": "d", "type": "quantitative"}, "y": {"datum": 105, "type": "quantitative"}, "text": {"field": "lbl"}}},
        {"data": {"name": "lg"}, "transform": [{"filter": "datum.key === 'a'"}], "mark": {"type": "text", "align": "left", "baseline": "middle", "dx": 8, "dy": -23, "fontSize": 5.8},
         "encoding": {"x": {"datum": 0, "type": "quantitative"}, "y": {"datum": 145, "type": "quantitative"}, "text": {"field": "t"}, "color": {"field": "key", "type": "nominal"}}},
        {"data": {"name": "lg"}, "transform": [{"filter": "datum.key === 'b'"}], "mark": {"type": "text", "align": "left", "baseline": "middle", "dx": 8, "dy": -15, "fontSize": 5.8},
         "encoding": {"x": {"datum": 0, "type": "quantitative"}, "y": {"datum": 145, "type": "quantitative"}, "text": {"field": "t"}, "color": {"field": "key", "type": "nominal"}}},
        {"data": {"name": "lg"}, "transform": [{"filter": "datum.key === 'c'"}], "mark": {"type": "text", "align": "left", "baseline": "middle", "dx": 8, "dy": -7, "fontSize": 5.8},
         "encoding": {"x": {"datum": 0, "type": "quantitative"}, "y": {"datum": 145, "type": "quantitative"}, "text": {"field": "t"}, "color": {"field": "key", "type": "nominal"}}},
        {"data": {"values": [{"t": "V"}]}, "mark": {"type": "text", "align": "right", "baseline": "middle", "dx": -2, "dy": -7, "fontSize": 5.8, "fill": "#4040d0"},
         "encoding": {"x": {"datum": 0, "type": "quantitative"}, "y": {"datum": 145, "type": "quantitative"}, "text": {"field": "t"}}},
        {"data": {"values": [{"t": "Trafo 16211 ABC 125kVA"}]}, "mark": {"type": "text", "baseline": "middle", "dy": 68, "fontSize": 20.5, "fill": "#000"},
         "encoding": {"y": {"datum": 105, "type": "quantitative"}, "text": {"field": "t"}}}
      ]
    },
    {
      "width": 500, "height": 405,
      "resolve": {"scale": {"y": "independent"}},
      "layer": [
        {
          "data": {"name": "h12"},
          "transform": [{"fold": ["p", "a", "b", "c", "d", "e", "f", "g", "h"]}],
          "layer": [
            {"data": {"values": [{}]},
             "mark": {"type": "rect", "fill": "transparent", "stroke": "#b0b0b0", "strokeWidth": 1, "xOffset": -5, "x2Offset": 20, "yOffset": -18, "y2Offset": 207},
             "encoding": {"x": {"datum": "p", "type": "nominal", "bandPosition": 0}, "x2": {"datum": "h", "bandPosition": 1},
                          "y": {"datum": "hdr", "type": "nominal", "bandPosition": 0}, "y2": {"datum": "hdr", "bandPosition": 1}}},
            {"mark": {"type": "rect", "fill": "transparent", "stroke": "#8a8a8a", "strokeWidth": 0.8},
             "encoding": {"x": {"field": "key", "type": "nominal", "scale": {"type": "band", "domain": ["p", "a", "b", "c", "d", "e", "f", "g", "h"], "paddingInner": 0, "paddingOuter": 0, "range": [18.7, 492]}},
                          "y": {"field": "row", "type": "nominal", "scale": {"type": "band", "domain": ["hdr"], "paddingInner": 0, "paddingOuter": 0, "range": [80.7, 104]}}}},
            {"transform": [{"filter": "datum.key !== 'p'"}],
             "mark": {"type": "text", "baseline": "middle", "dy": -4.75, "fontSize": 8, "lineBreak": "\n", "lineHeight": 9.5, "fill": "#333"},
             "encoding": {"x": {"field": "key", "type": "nominal"}, "y": {"field": "row", "type": "nominal"}, "text": {"field": "value"}}},
            {"transform": [{"filter": "datum.key === 'p'"}],
             "mark": {"type": "text", "align": "left", "baseline": "middle", "dx": 3, "dy": -4.75, "fontSize": 8, "lineBreak": "\n", "lineHeight": 9.5, "fill": "#333"},
             "encoding": {"x": {"field": "key", "type": "nominal", "bandPosition": 0}, "y": {"field": "row", "type": "nominal"}, "text": {"field": "value"}}},
            {"data": {"values": [{"t": "Lx\u2003L1\u2003L2\u2003L3"}]},
             "mark": {"type": "text", "align": "left", "baseline": "middle", "dx": 3, "dy": -11.5, "fontSize": 7, "fontWeight": "bold", "fill": "#222"},
             "encoding": {"x": {"datum": "p", "type": "nominal", "bandPosition": 0}, "y": {"datum": "hdr", "type": "nominal", "bandPosition": 0}, "text": {"field": "t"}}},
            {"data": {"values": [{}]},
             "mark": {"type": "rect", "fill": "#6b7fe0", "stroke": "#3a4ab0", "strokeWidth": 0.5, "xOffset": 8, "x2Offset": 13, "yOffset": -16, "y2Offset": -8},
             "encoding": {"x": {"datum": "a", "type": "nominal", "bandPosition": 0}, "x2": {"datum": "a", "bandPosition": 0},
                          "y": {"datum": "hdr", "type": "nominal", "bandPosition": 0}, "y2": {"datum": "hdr", "bandPosition": 0}}}
          ]
        },
        {
          "data": {"name": "b2"},
          "transform": [{"fold": ["p", "a", "b", "c", "d", "e", "f", "g", "h"]}],
          "layer": [
            {"mark": {"type": "rect", "fill": "transparent", "stroke": "#8a8a8a", "strokeWidth": 0.8},
             "encoding": {"x": {"field": "key", "type": "nominal"},
                          "y": {"field": "row", "type": "nominal", "scale": {"type": "band", "domain": ["sw", "dip", "d10", "d15", "d30", "d60", "int"], "paddingInner": 0, "paddingOuter": 0, "range": [104, 209]}}}},
            {"transform": [{"filter": "datum.key !== 'p'"}],
             "mark": {"type": "text", "baseline": "middle", "fontSize": 8, "fill": "#333"},
             "encoding": {"x": {"field": "key", "type": "nominal"}, "y": {"field": "row", "type": "nominal"}, "text": {"field": "value"}}},
            {"transform": [{"filter": "datum.key === 'p' && (datum.row === 'sw' || datum.row === 'dip' || datum.row === 'int')"}],
             "mark": {"type": "text", "align": "left", "baseline": "middle", "dx": 3, "fontSize": 8, "fill": "#333"},
             "encoding": {"x": {"field": "key", "type": "nominal", "bandPosition": 0}, "y": {"field": "row", "type": "nominal"}, "text": {"field": "value"}}},
            {"transform": [{"filter": "datum.key === 'p' && indexof(['d10', 'd15', 'd30', 'd60'], datum.row) >= 0"}],
             "mark": {"type": "text", "align": "right", "baseline": "middle", "dx": -3, "fontSize": 8, "fill": "#333"},
             "encoding": {"x": {"field": "key", "type": "nominal", "bandPosition": 1}, "y": {"field": "row", "type": "nominal"}, "text": {"field": "value"}}},
            {"data": {"values": [{}]},
             "mark": {"type": "rect", "fill": "transparent", "stroke": "#000", "strokeWidth": 3},
             "encoding": {"x": {"datum": "b", "type": "nominal", "bandPosition": 0}, "x2": {"datum": "g", "bandPosition": 1},
                          "y": {"datum": "d10", "type": "nominal", "bandPosition": 0}, "y2": {"datum": "d60", "bandPosition": 1}}}
          ]
        },
        {
          "data": {"name": "s2"},
          "layer": [
            {"transform": [{"filter": "datum.k !== 'uni'"}],
             "mark": {"type": "text", "align": "left", "baseline": "middle", "dx": 3, "fontSize": 8, "fill": "#333"},
             "encoding": {"x": {"datum": "p", "type": "nominal", "bandPosition": 0},
                          "y": {"field": "k", "type": "nominal", "scale": {"type": "band", "domain": ["rec", "uni", "n1", "n2", "n3", "n4", "n5", "n6", "n7", "n8"], "paddingInner": 0, "paddingOuter": 0, "range": [210.1, 309]}},
                          "text": {"field": "t"}}},
            {"transform": [{"filter": "datum.k === 'uni'"}],
             "mark": {"type": "text", "align": "left", "baseline": "middle", "dx": 7.4, "fontSize": 8, "fill": "#333"},
             "encoding": {"x": {"datum": "a", "type": "nominal", "bandPosition": 0}, "y": {"field": "k", "type": "nominal"}, "text": {"field": "t"}}},
            {"transform": [{"filter": "datum.v != null"}],
             "mark": {"type": "text", "align": "right", "baseline": "middle", "dx": -3, "fontSize": 8, "fill": "#333"},
             "encoding": {"x": {"datum": "c", "type": "nominal"}, "y": {"field": "k", "type": "nominal"}, "text": {"field": "v"}}},
            {"transform": [{"filter": "datum.k === 'uni'"}],
             "mark": {"type": "rect", "fill": "#fff", "stroke": "#000", "strokeWidth": 2, "xOffset": 3, "x2Offset": -1},
             "encoding": {"x": {"datum": "p", "type": "nominal", "bandPosition": 0}, "x2": {"datum": "a", "bandPosition": 0},
                          "y": {"datum": "uni", "type": "nominal", "bandPosition": 0.22}, "y2": {"datum": "uni", "bandPosition": 0.78}}}
          ]
        }
      ]
    },
    {
      "width": 698, "height": 400,
      "layer": [
        {"data": {"name": "y3"}, "transform": [{"filter": "datum.v > 110 && datum.v < 130"}],
         "mark": {"type": "rule", "stroke": "#a0a0a0", "strokeDash": [1.5, 1.5], "strokeWidth": 0.8},
         "encoding": {"x": {"datum": 0, "type": "quantitative", "scale": {"domain": [-0.3804, 7.2065], "nice": false, "zero": false}},
                      "x2": {"datum": 7.02},
                      "y": {"field": "v", "type": "quantitative", "scale": {"domain": [102.491, 132.23], "nice": false, "zero": false}}}},
        {"data": {"name": "x3"}, "transform": [{"filter": "datum.d > 0 && datum.d < 7"}],
         "mark": {"type": "rule", "stroke": "#a0a0a0", "strokeDash": [1.5, 1.5], "strokeWidth": 0.8},
         "encoding": {"x": {"field": "d", "type": "quantitative"}, "y": {"datum": 110, "type": "quantitative"}, "y2": {"datum": 130}}},
        {"data": {"name": "l3"}, "transform": [{"fold": ["a", "b"]}],
         "mark": {"type": "line", "strokeWidth": 1, "opacity": 0.85},
         "encoding": {"x": {"field": "d", "type": "quantitative"}, "y": {"field": "value", "type": "quantitative"},
                      "color": {"field": "key", "type": "nominal", "scale": {"domain": ["a", "b", "c"], "range": ["#2a2aff", "#ff2a2a", "#22dd22"]}}}},
        {"data": {"values": [{}]}, "mark": {"type": "rect", "fill": "transparent", "stroke": "#8c8c8c", "strokeWidth": 1},
         "encoding": {"x": {"datum": 0, "type": "quantitative"}, "x2": {"datum": 7.02}, "y": {"datum": 110, "type": "quantitative"}, "y2": {"datum": 130}}},
        {"data": {"name": "y3"}, "mark": {"type": "text", "align": "right", "baseline": "middle", "dx": -2, "fontSize": 5.6, "fill": "#5c5ce6"},
         "encoding": {"x": {"datum": 0, "type": "quantitative"}, "y": {"field": "v", "type": "quantitative"}, "text": {"field": "v", "type": "quantitative", "format": ".1f"}}},
        {"data": {"name": "x3"}, "mark": {"type": "text", "align": "center", "baseline": "top", "dy": 4.5, "fontSize": 5.4, "lineBreak": "\n", "lineHeight": 8, "fill": "#444"},
         "encoding": {"x": {"field": "d", "type": "quantitative"}, "y": {"datum": 110, "type": "quantitative"}, "text": {"field": "lbl"}}},
        {"data": {"name": "lg"}, "transform": [{"filter": "datum.key === 'a'"}], "mark": {"type": "text", "align": "left", "baseline": "middle", "dx": 8, "dy": -24, "fontSize": 5.8},
         "encoding": {"x": {"datum": 0, "type": "quantitative"}, "y": {"datum": 130, "type": "quantitative"}, "text": {"field": "t"}, "color": {"field": "key", "type": "nominal"}}},
        {"data": {"name": "lg"}, "transform": [{"filter": "datum.key === 'b'"}], "mark": {"type": "text", "align": "left", "baseline": "middle", "dx": 8, "dy": -16, "fontSize": 5.8},
         "encoding": {"x": {"datum": 0, "type": "quantitative"}, "y": {"datum": 130, "type": "quantitative"}, "text": {"field": "t"}, "color": {"field": "key", "type": "nominal"}}},
        {"data": {"values": [{"t": "V"}]}, "mark": {"type": "text", "align": "right", "baseline": "middle", "dx": -2, "dy": -8, "fontSize": 5.8, "fill": "#4040d0"},
         "encoding": {"x": {"datum": 0, "type": "quantitative"}, "y": {"datum": 130, "type": "quantitative"}, "text": {"field": "t"}}},
        {"data": {"values": [{"t": "Trafo 1901 A 75kVA"}]}, "mark": {"type": "text", "baseline": "middle", "dy": 66, "fontSize": 20.5, "fill": "#000"},
         "encoding": {"y": {"datum": 110, "type": "quantitative"}, "text": {"field": "t"}}}
      ]
    },
    {
      "width": 500, "height": 400,
      "resolve": {"scale": {"y": "independent"}},
      "layer": [
        {
          "data": {"name": "h3"},
          "transform": [{"fold": ["p", "a", "b", "c", "d", "e", "f", "g", "h"]}],
          "layer": [
            {"mark": {"type": "rect", "fill": "transparent", "stroke": "#8a8a8a", "strokeWidth": 0.8},
             "encoding": {"x": {"field": "key", "type": "nominal", "scale": {"type": "band", "domain": ["p", "a", "b", "c", "d", "e", "f", "g", "h"], "paddingInner": 0, "paddingOuter": 0, "range": [17, 494.7]}},
                          "y": {"field": "row", "type": "nominal", "scale": {"type": "band", "domain": ["hdr"], "paddingInner": 0, "paddingOuter": 0, "range": [71, 93.3]}}}},
            {"transform": [{"filter": "datum.key !== 'p'"}],
             "mark": {"type": "text", "baseline": "middle", "dy": -4.75, "fontSize": 8, "lineBreak": "\n", "lineHeight": 9.5, "fill": "#333"},
             "encoding": {"x": {"field": "key", "type": "nominal"}, "y": {"field": "row", "type": "nominal"}, "text": {"field": "value"}}},
            {"transform": [{"filter": "datum.key === 'p'"}],
             "mark": {"type": "text", "align": "left", "baseline": "middle", "dx": 3, "dy": -4.75, "fontSize": 8, "lineBreak": "\n", "lineHeight": 9.5, "fill": "#333"},
             "encoding": {"x": {"field": "key", "type": "nominal", "bandPosition": 0}, "y": {"field": "row", "type": "nominal"}, "text": {"field": "value"}}}
          ]
        },
        {
          "data": {"name": "b3"},
          "transform": [{"fold": ["p", "a", "b", "c", "d", "e", "f", "g", "h"]}],
          "layer": [
            {"mark": {"type": "rect", "fill": "transparent", "stroke": "#8a8a8a", "strokeWidth": 0.8},
             "encoding": {"x": {"field": "key", "type": "nominal"},
                          "y": {"field": "row", "type": "nominal", "scale": {"type": "band", "domain": ["sw", "dip", "d10", "d15", "d30", "d60", "int"], "paddingInner": 0, "paddingOuter": 0, "range": [93.3, 197.7]}}}},
            {"transform": [{"filter": "datum.key !== 'p'"}],
             "mark": {"type": "text", "baseline": "middle", "fontSize": 8, "fill": "#333"},
             "encoding": {"x": {"field": "key", "type": "nominal"}, "y": {"field": "row", "type": "nominal"}, "text": {"field": "value"}}},
            {"transform": [{"filter": "datum.key === 'p' && (datum.row === 'sw' || datum.row === 'dip' || datum.row === 'int')"}],
             "mark": {"type": "text", "align": "left", "baseline": "middle", "dx": 3, "fontSize": 8, "fill": "#333"},
             "encoding": {"x": {"field": "key", "type": "nominal", "bandPosition": 0}, "y": {"field": "row", "type": "nominal"}, "text": {"field": "value"}}},
            {"transform": [{"filter": "datum.key === 'p' && indexof(['d10', 'd15', 'd30', 'd60'], datum.row) >= 0"}],
             "mark": {"type": "text", "align": "right", "baseline": "middle", "dx": -3, "fontSize": 8, "fill": "#333"},
             "encoding": {"x": {"field": "key", "type": "nominal", "bandPosition": 1}, "y": {"field": "row", "type": "nominal"}, "text": {"field": "value"}}},
            {"data": {"values": [{}]},
             "mark": {"type": "rect", "fill": "transparent", "stroke": "#000", "strokeWidth": 3},
             "encoding": {"x": {"datum": "b", "type": "nominal", "bandPosition": 0}, "x2": {"datum": "g", "bandPosition": 1},
                          "y": {"datum": "d10", "type": "nominal", "bandPosition": 0}, "y2": {"datum": "d60", "bandPosition": 1}}}
          ]
        },
        {
          "data": {"name": "s3"},
          "layer": [
            {"transform": [{"filter": "datum.k !== 'uni'"}],
             "mark": {"type": "text", "align": "left", "baseline": "middle", "dx": 3, "fontSize": 8, "fill": "#333"},
             "encoding": {"x": {"datum": "p", "type": "nominal", "bandPosition": 0},
                          "y": {"field": "k", "type": "nominal", "scale": {"type": "band", "domain": ["rec", "uni", "n1", "n2", "n3", "n4", "n5", "n6", "n7", "n8"], "paddingInner": 0, "paddingOuter": 0, "range": [200.1, 299]}},
                          "text": {"field": "t"}}},
            {"transform": [{"filter": "datum.k === 'uni'"}],
             "mark": {"type": "text", "align": "left", "baseline": "middle", "dx": 7, "fontSize": 8, "fill": "#333"},
             "encoding": {"x": {"datum": "a", "type": "nominal", "bandPosition": 0}, "y": {"field": "k", "type": "nominal"}, "text": {"field": "t"}}},
            {"transform": [{"filter": "datum.v != null"}],
             "mark": {"type": "text", "align": "right", "baseline": "middle", "dx": -2, "fontSize": 8, "fill": "#333"},
             "encoding": {"x": {"datum": "c", "type": "nominal"}, "y": {"field": "k", "type": "nominal"}, "text": {"field": "v"}}},
            {"transform": [{"filter": "datum.k === 'uni'"}],
             "mark": {"type": "rect", "fill": "#fff", "stroke": "#000", "strokeWidth": 2, "xOffset": 3, "x2Offset": -0.4},
             "encoding": {"x": {"datum": "p", "type": "nominal", "bandPosition": 0}, "x2": {"datum": "a", "bandPosition": 0},
                          "y": {"datum": "uni", "type": "nominal", "bandPosition": 0.22}, "y2": {"datum": "uni", "bandPosition": 0.78}}}
          ]
        }
      ]
    }
  ]
}
